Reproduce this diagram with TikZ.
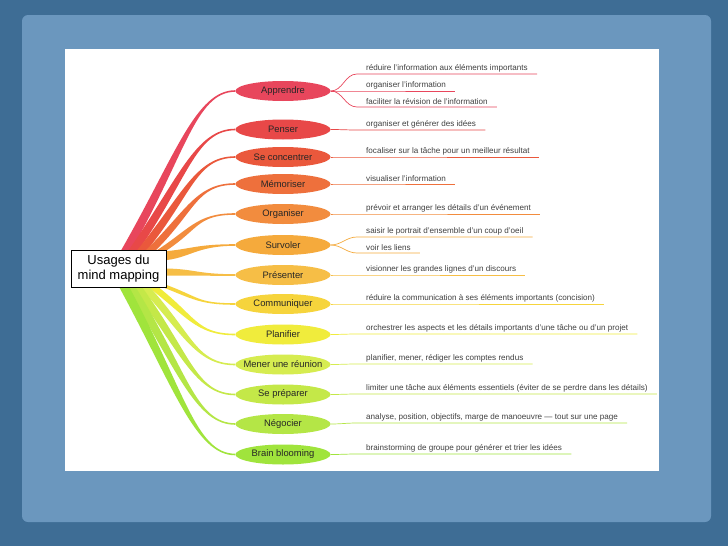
\documentclass[tikz,border=0pt]{standalone}
\usepackage{fontspec}
\setmainfont{Liberation Sans}
\usepackage{tikz}
\usetikzlibrary{shapes,positioning,calc}

\definecolor{deepblue}{HTML}{3E6D95}
\definecolor{paleblue}{HTML}{6B97BE}
\definecolor{c1}{HTML}{E8465C}
\definecolor{c2}{HTML}{E84848}
\definecolor{c3}{HTML}{EA583C}
\definecolor{c4}{HTML}{EE703C}
\definecolor{c5}{HTML}{F28C3E}
\definecolor{c6}{HTML}{F5AA3C}
\definecolor{c7}{HTML}{F6BE46}
\definecolor{c8}{HTML}{F6D43C}
\definecolor{c9}{HTML}{F0EC3C}
\definecolor{c10}{HTML}{D6EC50}
\definecolor{c11}{HTML}{C4E848}
\definecolor{c12}{HTML}{B4E646}
\definecolor{c13}{HTML}{A0E43C}

\begin{document}
\begin{tikzpicture}[x=1pt, y=-1pt]
			\tikzstyle{Hub}		= [draw, line width=0.8pt, fill=white, minimum width=95pt, minimum height=37pt, inner sep=0pt, align=center, font=\fontsize{13}{15}\selectfont]
			\tikzstyle{Usage}	= [ellipse, minimum width=95pt, minimum height=20pt, inner xsep=-6pt, inner ysep=0pt, text=black!85, font=\fontsize{9.4}{11}\selectfont]
			\tikzstyle{Leaf}	= [anchor=south west, inner xsep=9pt, inner ysep=2pt, text=black!75, font=\fontsize{8.1}{9}\selectfont]
			\tikzstyle{Twig}	= [line width=0.7pt]
			
			% backdrop
			\fill [deepblue] (0,0) rectangle (728,546);
			\fill [paleblue, rounded corners=6pt] (22,15) rectangle (711,522);
			\fill [white] (65,49) rectangle (659,471);
			\useasboundingbox (0,0) rectangle (728,546);
			
			\foreach \i/\y/\txt in {1/91/Apprendre, 2/129.5/Penser, 3/157/Se concentrer, 4/184/Mémoriser, 5/214/Organiser, 6/245/Survoler, 7/275/Présenter, 8/304/Communiquer, 9/334.5/Planifier, 10/364.5/Mener une réunion, 11/394.5/Se préparer, 12/424/Négocier, 13/454.5/Brain blooming}
				\node (u\i) at (283,\y) [Usage, fill=c\i] {\txt};
			
			% tapered limbs: root, first control, half width at the root
			\foreach \i/\rx/\ry/\cx/\cy/\ox/\oy in {1/124/254/180/157/5/0, 2/131/254/183/180/5/0, 3/139/254/187/196/5/0, 4/147/254/191/212/5/0, 5/156/254/195/230/5/0, 6/162/256/190/254/0/4.5, 7/162/272/195/272/0/3.5, 8/156/283/196/297/-5/0, 9/148/283/192/316/-5/0, 10/141/283/188/333/-5/0, 11/134/283/185/351.5/-5/0, 12/128/283/182/369/-5/0, 13/122/283/179/387.5/-5/0}
			{
				\coordinate (r\i) at (\rx,\ry);
				\fill [c\i] ($(r\i)+(\ox,\oy)$) .. controls ($(\cx,\cy)+(\ox,\oy)$) and ($(u\i.west)+(-40,0.8)$) .. ($(u\i.west)+(0,0.8)$)
					-- ($(u\i.west)+(0,-0.8)$) .. controls ($(u\i.west)+(-40,-0.8)$) and ($(\cx,\cy)-(\ox,\oy)$) .. ($(r\i)-(\ox,\oy)$) -- cycle;
			}
			
			\node (hub) at (118.5,268.5) [Hub] {Usages du\\mind mapping};
			
			\foreach \b/\y/\txt [count=\n] in {1/74/réduire l'information aux éléments importants, 1/91/organiser l'information, 1/107/faciliter la révision de l'information, 2/130/organiser et générer des idées, 3/157/focaliser sur la tâche pour un meilleur résultat, 4/184/visualiser l'information, 5/214/prévoir et arranger les détails d'un événement, 6/237/saisir le portrait d'ensemble d'un coup d'oeil, 6/253/voir les liens, 7/275/visionner les grandes lignes d'un discours, 8/304/réduire la communication à ses éléments importants (concision), 9/334/orchestrer les aspects et les détails importants d'une tâche ou d'un projet, 10/364/{planifier, mener, rédiger les comptes rendus}, 11/394/limiter une tâche aux éléments essentiels (éviter de se perdre dans les détails), 12/423/{analyse, position, objectifs, marge de manoeuvre — tout sur une page}, 13/454/brainstorming de groupe pour générer et trier les idées}
			{
				\node (t\n) at (357,\y) [Leaf] {\txt};
				\draw [Twig, c\b] (u\b.east) to[out=0, in=180] (t\n.south west) -- (t\n.south east);
			}
		\end{tikzpicture}
\end{document}
